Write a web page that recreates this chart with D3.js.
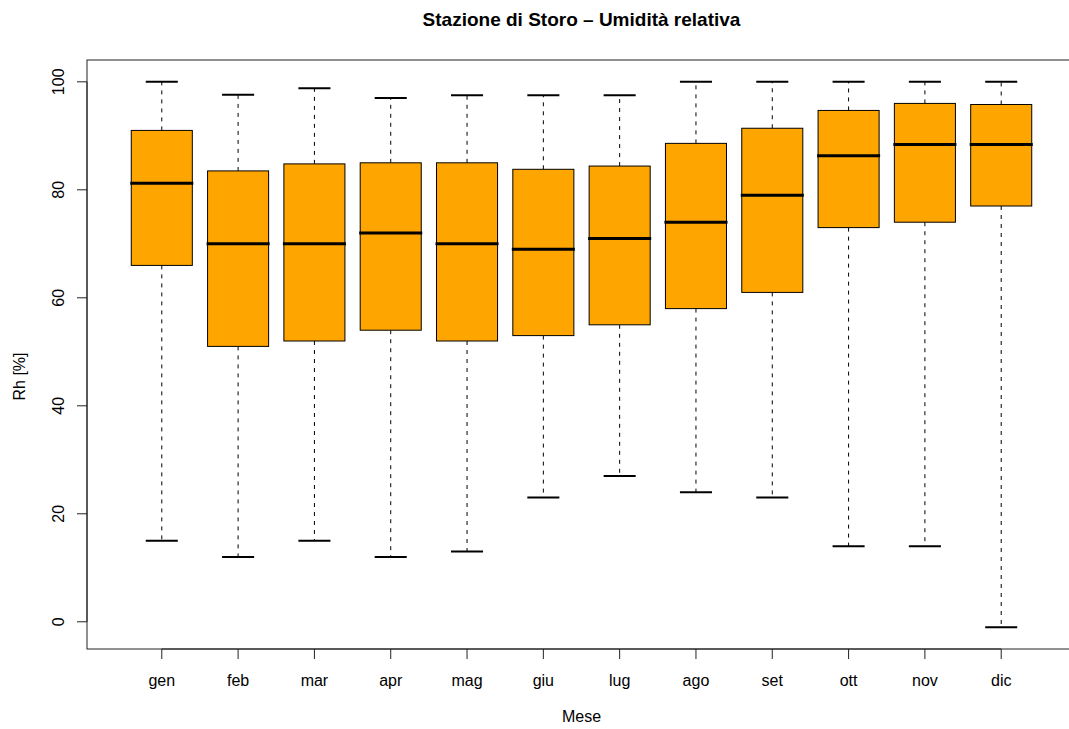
<!DOCTYPE html>
<html>
<head>
<meta charset="utf-8">
<script src="https://cdn.jsdelivr.net/npm/d3@7"></script>
<style>
  html, body { margin: 0; padding: 0; background: #fff; }
  svg { display: block; font-family: "Liberation Sans", Arial, Helvetica, sans-serif; }
</style>
</head>
<body>
<svg id="chart" width="1069" height="729"></svg>
<script>
const months = ["gen","feb","mar","apr","mag","giu","lug","ago","set","ott","nov","dic"];
const whiskerLow  = [15, 12, 15, 12, 13, 23, 27, 24, 23, 14, 14, -1];
const q1          = [66.0, 51.0, 52.0, 54.0, 52.0, 53.0, 55.0, 58.0, 61.0, 73.0, 74.0, 77.0];
const median      = [81.2, 70.0, 70.0, 72.0, 70.0, 69.0, 71.0, 74.0, 79.0, 86.3, 88.4, 88.4];
const q3          = [91.0, 83.5, 84.8, 85.0, 85.0, 83.8, 84.4, 88.6, 91.4, 94.7, 96.0, 95.8];
const whiskerHigh = [100, 97.6, 98.8, 97.0, 97.5, 97.5, 97.5, 100, 100, 100, 100, 100];
const yTicks = [0, 20, 40, 60, 80, 100];
const chartTitle = "Stazione di Storo – Umidità relativa";
const xLabel = "Mese";
const yLabel = "Rh [%]";

(function () {
const svg = d3.select("#chart");
const pLeft = 87, pRight = 1076, pTop = 60, pBottom = 649;

const n = months.length;
// R-style limits: xlim c(0.5, n+0.5) extended by 4%
const xr = [0.5 - 0.04 * n, n + 0.5 + 0.04 * n];
const x = d3.scaleLinear().domain(xr).range([pLeft, pRight]);
const yMin = -1, yMax = 100, ext = (yMax - yMin) * 0.04;
const y = d3.scaleLinear().domain([yMin - ext, yMax + ext]).range([pBottom, pTop]);

const unit = x(2) - x(1);
const boxW = unit * 0.8;
const capW = unit * 0.42;

const data = months.map((m, i) => ({
  m, i: i + 1, lo: whiskerLow[i], q1: q1[i], med: median[i], q3: q3[i], hi: whiskerHigh[i]
}));

const g = svg.append("g");

// whiskers (dashed)
g.selectAll(".wl").data(data).enter().append("line")
  .attr("x1", d => x(d.i)).attr("x2", d => x(d.i))
  .attr("y1", d => y(d.q1)).attr("y2", d => y(d.lo))
  .attr("stroke", "#000").attr("stroke-width", 1).attr("stroke-dasharray", "4,5");
g.selectAll(".wh").data(data).enter().append("line")
  .attr("x1", d => x(d.i)).attr("x2", d => x(d.i))
  .attr("y1", d => y(d.q3)).attr("y2", d => y(d.hi))
  .attr("stroke", "#000").attr("stroke-width", 1).attr("stroke-dasharray", "4,5");

// caps
g.selectAll(".capL").data(data).enter().append("line")
  .attr("x1", d => x(d.i) - capW / 2).attr("x2", d => x(d.i) + capW / 2)
  .attr("y1", d => y(d.lo)).attr("y2", d => y(d.lo))
  .attr("stroke", "#000").attr("stroke-width", 2);
g.selectAll(".capH").data(data).enter().append("line")
  .attr("x1", d => x(d.i) - capW / 2).attr("x2", d => x(d.i) + capW / 2)
  .attr("y1", d => y(d.hi)).attr("y2", d => y(d.hi))
  .attr("stroke", "#000").attr("stroke-width", 2);

// boxes
g.selectAll(".box").data(data).enter().append("rect")
  .attr("x", d => x(d.i) - boxW / 2).attr("width", boxW)
  .attr("y", d => y(d.q3)).attr("height", d => y(d.q1) - y(d.q3))
  .attr("fill", "#FFA500").attr("stroke", "#000").attr("stroke-width", 1);

// medians
g.selectAll(".med").data(data).enter().append("line")
  .attr("x1", d => x(d.i) - boxW / 2 - 1).attr("x2", d => x(d.i) + boxW / 2 + 1)
  .attr("y1", d => y(d.med)).attr("y2", d => y(d.med))
  .attr("stroke", "#000").attr("stroke-width", 3);

// frame
svg.append("rect")
  .attr("x", pLeft).attr("y", pTop).attr("width", pRight - pLeft).attr("height", pBottom - pTop)
  .attr("fill", "none").attr("stroke", "#222").attr("stroke-width", 1);

// x axis
const xAxisG = svg.append("g").attr("transform", `translate(0,${pBottom})`);
xAxisG.append("line").attr("x1", x(1)).attr("x2", x(n)).attr("y1", 0).attr("y2", 0)
  .attr("stroke", "#222");
xAxisG.selectAll(".xt").data(data).enter().append("line")
  .attr("x1", d => x(d.i)).attr("x2", d => x(d.i)).attr("y1", 0).attr("y2", 10)
  .attr("stroke", "#222");
xAxisG.selectAll(".xl").data(data).enter().append("text")
  .attr("x", d => x(d.i)).attr("y", 37)
  .attr("text-anchor", "middle").attr("font-size", 16).attr("fill", "#000")
  .text(d => d.m);

// y axis
const yAxisG = svg.append("g").attr("transform", `translate(${pLeft},0)`);
yAxisG.append("line").attr("x1", 0).attr("x2", 0)
  .attr("y1", y(yTicks[0])).attr("y2", y(yTicks[yTicks.length - 1])).attr("stroke", "#222");
yAxisG.selectAll(".yt").data(yTicks).enter().append("line")
  .attr("x1", -10).attr("x2", 0).attr("y1", d => y(d)).attr("y2", d => y(d))
  .attr("stroke", "#222");
yAxisG.selectAll(".yl").data(yTicks).enter().append("text")
  .attr("transform", d => `translate(-23,${y(d)}) rotate(-90)`)
  .attr("text-anchor", "middle").attr("font-size", 16).attr("fill", "#000")
  .text(d => d);

// titles
svg.append("text").attr("x", (pLeft + pRight) / 2).attr("y", 26)
  .attr("text-anchor", "middle").attr("font-size", 19).attr("font-weight", "bold")
  .text(chartTitle);
svg.append("text").attr("x", (pLeft + pRight) / 2).attr("y", 722)
  .attr("text-anchor", "middle").attr("font-size", 16)
  .text(xLabel);
svg.append("text").attr("transform", `translate(25,${(pTop + pBottom) / 2 + 22}) rotate(-90)`)
  .attr("text-anchor", "middle").attr("font-size", 16)
  .text(yLabel);
})();
</script>
</body>
</html>
